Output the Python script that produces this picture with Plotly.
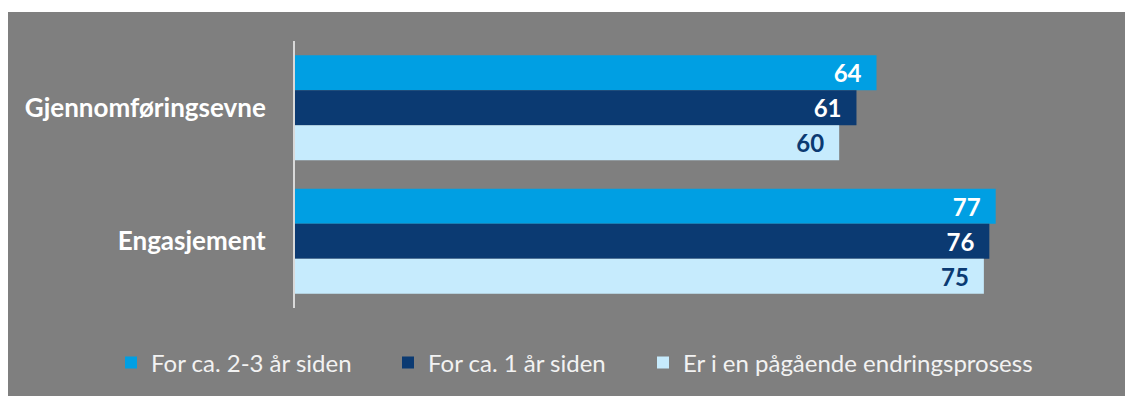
import plotly.graph_objects as go

categories = ["Gjennomføringsevne", "Engasjement"]
series_names = ["For ca. 2-3 år siden", "For ca. 1 år siden", "Er i en pågående endringsprosess"]
values_s1 = [63.9, 77.0]
values_s2 = [61.7, 76.3]
values_s3 = [59.8, 75.7]
labels_s1 = ["64", "77"]
labels_s2 = ["61", "76"]
labels_s3 = ["60", "75"]

colors = ["#009FE3", "#0B3A72", "#C6EBFD"]
label_colors = ["#FFFFFF", "#FFFFFF", "#0B3A72"]

OFF = 8  # page body margin
W, H = 1133 - OFF, 396 - OFF
L = 295 - OFF
T = 41 - OFF
R = W - (1114 - OFF)
B = H - (308 - OFF)
PW = W - L - R
PH = H - T - B

FONT = "Lato"

fig = go.Figure()
all_vals = [values_s1, values_s2, values_s3]
all_labels = [labels_s1, labels_s2, labels_s3]
legend_ids = ["legend", "legend2", "legend3"]
for i in range(3):
    fig.add_trace(go.Bar(
        y=categories, x=all_vals[i], orientation="h",
        name=series_names[i], marker=dict(color=colors[i], line=dict(width=0)),
        text=all_labels[i], texttemplate="%{text}\u2002",
        textposition="inside", insidetextanchor="end",
        textfont=dict(family=FONT, size=24, color=label_colors[i], weight="bold"),
        cliponaxis=False, legend=legend_ids[i], hoverinfo="skip",
    ))

def px_x(p):
    return (p - OFF - L) / PW

def px_y(p):
    return (H - B - (p - OFF)) / PH

fig.add_shape(type="rect", xref="paper", yref="paper",
              x0=px_x(0), x1=px_x(1140), y0=px_y(400), y1=px_y(12),
              fillcolor="#7F7F7F", line=dict(width=0), layer="below")

legend_x = [125, 402, 657]
legend_font = dict(family=FONT, size=24, color="#F2F2F2")
legend_common = dict(orientation="h", xref="container", yref="container",
                     xanchor="left", yanchor="middle", y=1 - (363 - OFF) / H,
                     bgcolor="rgba(0,0,0,0)", font=legend_font,
                     borderwidth=0)
fig.update_layout(
    width=W, height=H,
    margin=dict(l=L, r=R, t=T, b=B, pad=0),
    paper_bgcolor="#FFFFFF",
    plot_bgcolor="rgba(0,0,0,0)",
    barmode="group", bargap=0.213, bargroupgap=0,
    showlegend=True,
    legend=dict(x=(legend_x[0] - OFF - 14) / W, **legend_common),
    legend2=dict(x=(legend_x[1] - OFF - 14) / W, **legend_common),
    legend3=dict(x=(legend_x[2] - OFF - 14) / W, **legend_common),
    xaxis=dict(range=[0, 90], showgrid=False, zeroline=False, showticklabels=False,
               showline=False, fixedrange=True),
    yaxis=dict(autorange="reversed", showgrid=False, zeroline=False,
               showline=True, linecolor="#D9D9D9", linewidth=2, ticks="",
               ticklabelstandoff=22,
               tickfont=dict(family=FONT, size=26, color="#FFFFFF", weight="bold")),
)

fig.write_html("out.html")
